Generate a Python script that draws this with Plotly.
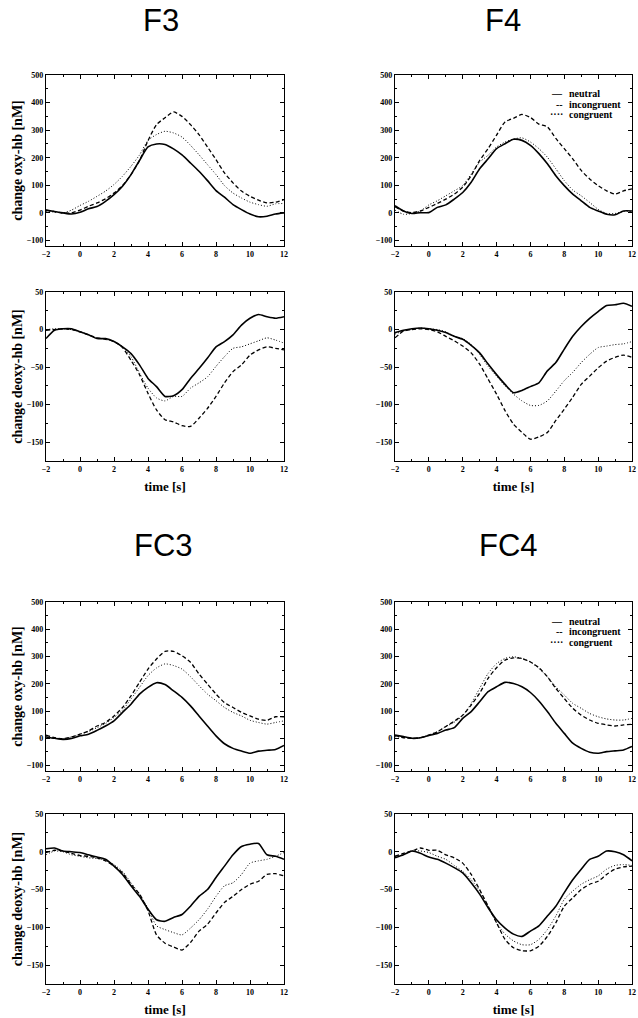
import plotly.graph_objects as go

# ---------------- data ----------------
time_s = [-2, -1.5, -1, -0.5, 0, 0.5, 1, 1.5, 2, 2.5, 3, 3.5, 4, 4.5, 5, 5.5,
          6, 6.5, 7, 7.5, 8, 8.5, 9, 9.5, 10, 10.5, 11, 11.5, 12]

conditions = ["neutral", "incongruent", "congruent"]
channels = ["F3", "F4", "FC3", "FC4"]

# F3
f3_oxy_neutral = [10, 5, 0, -4, 2, 15, 23, 42, 66, 97, 139, 190, 239, 250, 248, 232, 210, 181, 151, 117, 81, 57, 30, 12, -4, -14, -12, -4, 0]
f3_oxy_incongruent = [10, 5, 0, 0, 10, 24, 36, 51, 72, 99, 139, 190, 262, 320, 345, 366, 350, 320, 284, 239, 193, 145, 109, 79, 60, 46, 36, 39, 48]
f3_oxy_congruent = [6, 3, 0, 10, 27, 42, 60, 79, 103, 133, 169, 210, 263, 284, 296, 290, 275, 245, 211, 175, 139, 99, 72, 54, 39, 30, 24, 33, 34]
f3_deoxy_neutral = [-12, -1, 1, 1, -3, -7, -12, -12, -16, -23, -32, -47, -65, -76, -89, -88, -80, -65, -52, -38, -23, -16, -7, 6, 15, 20, 17, 15, 17]
f3_deoxy_incongruent = [-1, 0, 1, 0, -3, -7, -11, -13, -16, -24, -41, -60, -85, -107, -120, -123, -128, -129, -118, -105, -89, -71, -56, -47, -34, -27, -23, -25, -27]
f3_deoxy_congruent = [0, 1, 1, 0, -3, -7, -11, -13, -16, -23, -36, -58, -78, -91, -95, -89, -89, -78, -71, -63, -49, -36, -25, -23, -19, -15, -11, -14, -18]

# F4
f4_oxy_neutral = [26, 7, -2, 1, 1, 20, 29, 50, 74, 111, 160, 196, 233, 251, 267, 263, 245, 215, 178, 135, 99, 68, 44, 20, 7, -5, -7, 7, 7]
f4_oxy_incongruent = [22, 7, 1, 7, 20, 34, 50, 68, 93, 135, 190, 233, 282, 330, 343, 357, 346, 322, 312, 270, 233, 196, 154, 123, 99, 80, 68, 80, 87]
f4_oxy_congruent = [10, -5, -2, 7, 29, 44, 62, 80, 99, 141, 184, 209, 239, 257, 268, 272, 257, 233, 202, 160, 117, 83, 62, 38, 13, -2, -2, 5, 5]
f4_deoxy_neutral = [-4, -1, 1, 2, 1, -1, -4, -9, -13, -21, -31, -46, -60, -73, -84, -81, -76, -71, -55, -44, -26, -9, 4, 15, 24, 32, 33, 35, 31]
f4_deoxy_incongruent = [-11, -2, 0, 1, 0, -3, -9, -15, -22, -31, -46, -66, -86, -108, -126, -137, -146, -143, -137, -121, -106, -90, -73, -62, -51, -42, -37, -34, -37]
f4_deoxy_congruent = [-6, -2, 0, 2, 1, 0, -3, -9, -12, -20, -33, -49, -62, -75, -86, -95, -101, -101, -95, -82, -68, -57, -44, -33, -24, -22, -20, -19, -16]

# FC3
fc3_oxy_neutral = [5, 0, -4, -1, 9, 15, 29, 45, 64, 95, 125, 162, 187, 204, 197, 174, 150, 119, 82, 45, 9, -20, -37, -47, -55, -47, -44, -41, -26]
fc3_oxy_incongruent = [12, 2, -1, 5, 15, 27, 45, 58, 82, 113, 156, 205, 254, 291, 319, 319, 303, 279, 236, 199, 162, 131, 113, 95, 82, 70, 66, 79, 79]
fc3_oxy_congruent = [9, 0, -1, 5, 15, 25, 39, 54, 76, 103, 144, 187, 230, 258, 273, 267, 254, 226, 193, 162, 138, 113, 95, 82, 66, 58, 52, 58, 64]
fc3_deoxy_neutral = [4, 5, 1, 0, -1, -4, -7, -10, -19, -30, -45, -59, -76, -90, -92, -87, -83, -72, -59, -50, -34, -19, -4, 7, 10, 11, -4, -6, -10]
fc3_deoxy_incongruent = [-1, 2, 1, -2, -5, -6, -8, -12, -19, -28, -43, -56, -78, -110, -121, -126, -130, -120, -105, -96, -81, -67, -59, -50, -43, -39, -30, -29, -32]
fc3_deoxy_congruent = [-4, 1, 0, -4, -6, -8, -9, -11, -17, -26, -41, -56, -75, -98, -103, -107, -110, -101, -90, -76, -59, -45, -41, -30, -15, -12, -10, -6, -1]

# FC4
fc4_oxy_neutral = [12, 6, 0, 2, 10, 18, 30, 39, 73, 98, 134, 171, 189, 205, 201, 189, 168, 137, 98, 55, 18, -18, -37, -51, -55, -49, -46, -43, -30]
fc4_oxy_incongruent = [10, 2, 0, 2, 12, 24, 43, 63, 85, 122, 165, 220, 259, 287, 295, 293, 280, 259, 226, 183, 146, 110, 85, 67, 55, 49, 45, 49, 51]
fc4_oxy_congruent = [6, 3, 0, 2, 12, 24, 43, 59, 83, 128, 183, 238, 274, 293, 299, 293, 280, 256, 226, 189, 159, 128, 110, 91, 79, 71, 67, 67, 73]
fc4_deoxy_neutral = [-8, -4, 1, -2, -7, -10, -15, -21, -28, -41, -56, -74, -90, -101, -109, -112, -105, -98, -85, -72, -54, -37, -23, -10, -6, 1, 0, -4, -12]
fc4_deoxy_incongruent = [-6, -2, 1, 5, 2, 2, -4, -8, -15, -30, -50, -72, -94, -116, -127, -131, -131, -125, -112, -94, -72, -61, -50, -43, -39, -30, -23, -20, -19]
fc4_deoxy_congruent = [-6, -4, 1, 1, -1, -6, -10, -18, -26, -37, -52, -72, -94, -109, -118, -123, -123, -116, -103, -85, -63, -52, -43, -37, -32, -23, -18, -17, -18]

x_ticks = [-2, 0, 2, 4, 6, 8, 10, 12]
oxy_ticks = [-100, 0, 100, 200, 300, 400, 500]
deoxy_ticks = [-150, -100, -50, 0, 50]

panels = [
    # channel, measure, series
    ("F3", "oxy", [f3_oxy_neutral, f3_oxy_incongruent, f3_oxy_congruent]),
    ("F3", "deoxy", [f3_deoxy_neutral, f3_deoxy_incongruent, f3_deoxy_congruent]),
    ("F4", "oxy", [f4_oxy_neutral, f4_oxy_incongruent, f4_oxy_congruent]),
    ("F4", "deoxy", [f4_deoxy_neutral, f4_deoxy_incongruent, f4_deoxy_congruent]),
    ("FC3", "oxy", [fc3_oxy_neutral, fc3_oxy_incongruent, fc3_oxy_congruent]),
    ("FC3", "deoxy", [fc3_deoxy_neutral, fc3_deoxy_incongruent, fc3_deoxy_congruent]),
    ("FC4", "oxy", [fc4_oxy_neutral, fc4_oxy_incongruent, fc4_oxy_congruent]),
    ("FC4", "deoxy", [fc4_deoxy_neutral, fc4_deoxy_incongruent, fc4_deoxy_congruent]),
]

# ---------------- layout geometry ----------------
W, H = 638, 1018
col_px = {"F3": (46, 284), "F4": (395, 632), "FC3": (46, 284), "FC4": (395, 632)}
row_px = {("F", "oxy"): (75, 246), ("F", "deoxy"): (292, 461),
          ("FC", "oxy"): (602, 771), ("FC", "deoxy"): (814, 984)}
title_px = {"F3": (161, 21), "F4": (503, 21), "FC3": (163, 545), "FC4": (508, 545)}

styles = {
    "neutral": dict(width=1.6, dash="solid"),
    "incongruent": dict(width=1.3, dash="4px,2.5px"),
    "congruent": dict(width=1.0, dash="1px,2px"),
}
legend_glyph = {"neutral": "—", "incongruent": "--", "congruent": "····"}

SERIF = "Liberation Serif"
fig = go.Figure()
layout = dict(width=W, height=H, margin=dict(l=0, r=0, t=0, b=0),
              paper_bgcolor="white", plot_bgcolor="white", showlegend=False,
              template="none")
annotations = []

for i, (ch, meas, series) in enumerate(panels, start=1):
    xa = "x" if i == 1 else f"x{i}"
    ya = "y" if i == 1 else f"y{i}"
    x0, x1 = col_px[ch]
    grp = "FC" if ch.startswith("FC") else "F"
    top, bot = row_px[(grp, meas)]
    for cond, vals in zip(conditions, series):
        fig.add_trace(go.Scatter(
            x=time_s, y=vals, mode="lines", name=cond, xaxis=xa, yaxis=ya,
            line=dict(color="black", shape="spline", smoothing=0.6, **styles[cond]),
            showlegend=False))
    is_left = ch in ("F3", "FC3")
    axis_common = dict(showline=True, linecolor="black", linewidth=1.2, mirror="ticks",
                       ticks="inside", ticklen=4, tickwidth=1, tickcolor="black",
                       showgrid=False, zeroline=False,
                       tickfont=dict(family=SERIF, size=8, color="black", weight="bold"),
                       ticklabeloverflow="allow", automargin=False)
    xkey = "xaxis" if i == 1 else f"xaxis{i}"
    ykey = "yaxis" if i == 1 else f"yaxis{i}"
    xdict = dict(axis_common, domain=[x0 / W, x1 / W], anchor=ya, range=[-2, 12],
                 tickvals=x_ticks,
                 minor=dict(ticks="inside", ticklen=2, tickcolor="black", dtick=1, tick0=0))
    if meas == "deoxy":
        xdict["title"] = dict(text="time [s]", standoff=9,
                              font=dict(family=SERIF, size=13, color="black", weight="bold"))
    if meas == "oxy":
        yrng, yt, ylab, mdt = [-120, 500], oxy_ticks, "change oxy-hb [nM]", 50
    else:
        yrng, yt, ylab, mdt = [-175, 50], deoxy_ticks, "change deoxy-hb [nM]", 25
    ydict = dict(axis_common, domain=[1 - bot / H, 1 - top / H], anchor=xa, range=yrng,
                 tickvals=yt,
                 minor=dict(ticks="inside", ticklen=2, tickcolor="black", dtick=mdt, tick0=0))
    if is_left:
        ydict["title"] = dict(text=ylab, standoff=0,
                              font=dict(family=SERIF, size=14, color="black", weight="bold"))
    layout[xkey] = xdict
    layout[ykey] = ydict

    if meas == "oxy":
        tx, ty = title_px[ch]
        annotations.append(dict(text=ch, xref="paper", yref="paper", x=tx / W, y=1 - ty / H,
                                xanchor="center", yanchor="middle", showarrow=False,
                                font=dict(family="Liberation Sans", size=31, color="black")))
        if not is_left:
            # legend block in the top-right of the right-hand oxy panels
            for k, cond in enumerate(conditions):
                yoff = 19 + 10.5 * k
                annotations.append(dict(text=legend_glyph[cond], xref=f"{xa} domain",
                                        yref=f"{ya} domain", x=(565 - x0) / (x1 - x0),
                                        y=1 - yoff / (bot - top), xanchor="right",
                                        yanchor="middle", showarrow=False,
                                        font=dict(family=SERIF, size=10, color="black",
                                                  weight="bold")))
                annotations.append(dict(text=cond, xref=f"{xa} domain",
                                        yref=f"{ya} domain", x=(567 - x0) / (x1 - x0),
                                        y=1 - yoff / (bot - top), xanchor="left",
                                        yanchor="middle", showarrow=False,
                                        font=dict(family=SERIF, size=10, color="black",
                                                  weight="bold")))

layout["annotations"] = annotations
fig.update_layout(**layout)
fig.write_html("out.html", config={"displayModeBar": False},
               post_script="document.body.style.margin='0';")
